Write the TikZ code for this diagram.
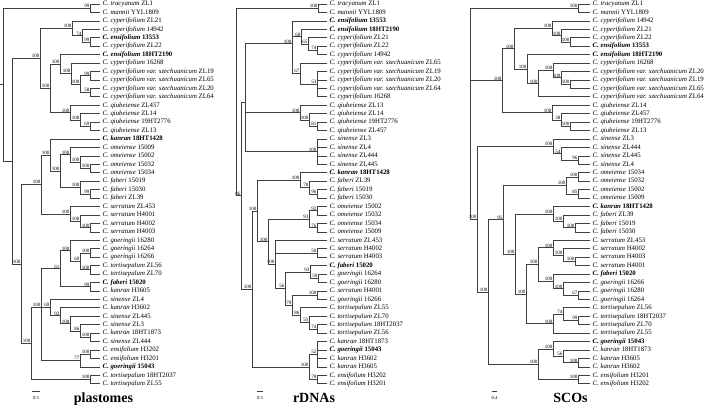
\documentclass[tikz,border=0pt]{standalone}
\usepackage{fontspec}
\setmainfont{Liberation Serif}

\tikzset{
  br/.style={draw=black!75, line width=0.75pt},
  leaf/.style={anchor=west, inner xsep=2.6pt, inner ysep=0pt, outer sep=0pt,
    font=\fontsize{6.8}{8}\selectfont, text height=5pt, text depth=1.5pt},
  bleaf/.style={leaf, font=\fontsize{6.8}{8}\selectfont\bfseries},
  bs/.style={anchor=south east, inner sep=0.4pt, font=\fontsize{5}{5}\selectfont},
  ttl/.style={anchor=base, font=\fontsize{14}{16}\selectfont\bfseries},
  sc/.style={inner sep=0pt, font=\fontsize{4.6}{5}\selectfont}
}

\begin{document}
\begin{tikzpicture}[x=1pt, y=-8.44pt]
\useasboundingbox (0pt,0pt) rectangle (709pt,-407pt);
\begin{scope}[yshift=4.44pt]
  % plastomes: taxa
  \foreach \i/\spc/\tg in {1/tracyanum/ZL1, 2/mannii/YYL1809, 3/cyperifolium/ZL21, 4/cyperifolium/14942,
      6/cyperifolium/ZL22, 8/cyperifolium/16268, 9/cyperifolium var. szechuanicum/ZL19,
      10/cyperifolium var. szechuanicum/ZL65, 11/cyperifolium var. szechuanicum/ZL20,
      12/cyperifolium var. szechuanicum/ZL64, 13/qiubeiense/ZL457, 14/qiubeiense/ZL14,
      15/qiubeiense/19HT2776, 16/qiubeiense/ZL13, 18/omeiense/15009, 19/omeiense/15002,
      20/omeiense/15032, 21/omeiense/15034, 22/faberi/15019, 23/faberi/15030, 24/faberi/ZL39,
      25/serratum/ZL453, 26/serratum/H4001, 27/serratum/H4002, 28/serratum/H4003,
      29/goeringii/16280, 30/goeringii/16264, 31/goeringii/16266, 32/tortisepalum/ZL56,
      33/tortisepalum/ZL70, 35/kanran/H3605, 36/sinense/ZL4, 37/kanran/H3602, 38/sinense/ZL445,
      39/sinense/ZL3, 40/kanran/18HT1873, 41/sinense/ZL444, 42/ensifolium/H3202,
      43/ensifolium/H3201, 45/tortisepalum/18HT2037, 46/tortisepalum/ZL55}
    \node[leaf] (p\i) at (100,\i) {\textit{C. \spc} \tg};
  \foreach \i/\spc/\tg in {5/ensifolium/13553, 7/ensifolium/18HT2190, 17/kanran/18HT1428,
      34/faberi/15020, 44/goeringii/15043}
    \node[bleaf] (p\i) at (100,\i) {\textit{C. \spc} \tg};
  % plastomes: clades
  \foreach \n/\xx/\yy/\lb in {pA1/90/1.5/99, pB1/90/5.5/99, pB2/82/4.75/74, pB3/72/3.875/100,
      pC1/90/9.5/99, pC2/90/11.5/58, pC3/80/10.5/100, pC4/71/9.25/100, pC5/60/8.125/100,
      pD1/90/15.5/69, pD2/80/14.75/100, pD3/70/13.875/100, pE/50/11/100, pF/40/7.44/100,
      pG1/90/20.5/100, pG2/80/19.75/100, pG3/70/18.875/100, pH1/90/23.5/99, pH2/80/22.75/100,
      pJ/60/20.81/100, pK/50/18.91/100, pL1/90/27.5/100, pL2/80/26.75/100, pL3/70/25.875/100,
      pM/41/22.39/100, pN1/90/30.5/100, pN2/90/32.5/100, pN3/80/31.5/60, pN4/70/30.25/100,
      pN5/90/34.5/99, pN6/60/32.375/61, pQ1/90/40.5/100, pQ2/80/39.75/86, pQ3/70/38.875/100,
      pQ4/60/37.94/92, pQ5/50/36.97/69, pS1/90/42.5/100, pS2/80/43.25/77, pT/41/36.97/100,
      pU/90/45.5/100, pV/31/41.24/100, pW/21/31.81/100}
  {
    \coordinate (\n) at (\xx,\yy);
    \node[bs] (l\n) at (\n) {\lb};
  }
  \coordinate (pX) at (12,19.62);
  \coordinate (pR) at (3,10.56);
  \coordinate (p0) at (0,10.56);
  \foreach \pa/\cc in {pA1/p1, pA1/p2, pB1/p5, pB1/p6, pB2/p4, pB2/pB1, pB3/p3, pB3/pB2,
      pC1/p9, pC1/p10, pC2/p11, pC2/p12, pC3/pC1, pC3/pC2, pC4/p8, pC4/pC3, pC5/p7, pC5/pC4,
      pD1/p15, pD1/p16, pD2/p14, pD2/pD1, pD3/p13, pD3/pD2, pE/pC5, pE/pD3, pF/pB3, pF/pE,
      pG1/p20, pG1/p21, pG2/p19, pG2/pG1, pG3/p18, pG3/pG2, pH1/p23, pH1/p24, pH2/p22, pH2/pH1,
      pJ/pG3, pJ/pH2, pK/p17, pK/pJ, pL1/p27, pL1/p28, pL2/p26, pL2/pL1, pL3/p25, pL3/pL2,
      pM/pK, pM/pL3, pN1/p30, pN1/p31, pN2/p32, pN2/p33, pN3/pN1, pN3/pN2, pN4/p29, pN4/pN3,
      pN5/p34, pN5/p35, pN6/pN4, pN6/pN5, pQ1/p40, pQ1/p41, pQ2/p39, pQ2/pQ1, pQ3/p38, pQ3/pQ2,
      pQ4/p37, pQ4/pQ3, pQ5/p36, pQ5/pQ4, pS1/p42, pS1/p43, pS2/pS1, pS2/p44, pT/pN6, pT/pQ5,
      pT/pS2, pU/p45, pU/p46, pV/pT, pV/pU, pW/pM, pW/pV, pX/pF, pX/pW, pR/pA1, pR/pX}
    \draw[br] (\pa) |- (\cc);
  \draw[br] (p0) -- (pR);

  % rDNAs: taxa
  \foreach \i/\spc/\tg in {1/tracyanum/ZL1, 2/mannii/YYL1809, 5/cyperifolium/ZL21, 6/cyperifolium/ZL22,
      7/cyperifolium/14942, 8/cyperifolium var. szechuanicum/ZL65, 9/cyperifolium var. szechuanicum/ZL19,
      10/cyperifolium var. szechuanicum/ZL20, 11/cyperifolium var. szechuanicum/ZL64,
      12/cyperifolium/16268, 13/qiubeiense/ZL13, 14/qiubeiense/ZL14, 15/qiubeiense/19HT2776,
      16/qiubeiense/ZL457, 17/sinense/ZL3, 18/sinense/ZL4, 19/sinense/ZL444, 20/sinense/ZL445,
      22/faberi/ZL39, 23/faberi/15019, 24/faberi/15030, 25/omeiense/15002, 26/omeiense/15032,
      27/omeiense/15034, 28/omeiense/15009, 29/serratum/ZL453, 30/serratum/H4002,
      31/serratum/H4003, 33/goeringii/16264, 34/goeringii/16280, 35/serratum/H4001,
      36/goeringii/16266, 37/tortisepalum/ZL55, 38/tortisepalum/ZL70, 39/tortisepalum/18HT2037,
      40/tortisepalum/ZL56, 41/kanran/18HT1873, 43/kanran/H3602, 44/kanran/H3605,
      45/ensifolium/H3202, 46/ensifolium/H3201}
    \node[leaf] (r\i) at (327,\i) {\textit{C. \spc} \tg};
  \foreach \i/\spc/\tg in {3/ensifolium/13553, 4/ensifolium/18HT2190, 21/kanran/18HT1428,
      32/faberi/15020, 42/goeringii/15043}
    \node[bleaf] (r\i) at (327,\i) {\textit{C. \spc} \tg};
  % rDNAs: clades
  \foreach \n/\xx/\yy/\lb in {rA/318/1.5/100, rB1/317/6.5/74, rB2/308/5.75/65, rB3/301/4.875/68,
      rC1/317/10.5/53, rC2/300/9.25/67, rC/292/5.71/100, rD1/317/15.5/81, rD2/309/14.75/100,
      rD3/300/13.875/100, rE/317/18.5/100, rF1/317/23.5/96, rF2/309/22.75/78, rF3/300/21.875/100,
      rG1/317/25.5/92, rG2/317/27.5/76, rG3/309/26.5/93, rH1/317/30.5/50, rH2/318/33.5/50,
      rH3/310/32.75/93, rH4/317/35.5/100, rH5/317/39.5/74, rH6/309/38.75/55, rH7/300/37.875/86,
      rH8/292/36.69/79, rH9/285/34.72/56, rK1/317/42.5/52, rK2/317/45.5/78, rK3/309/44/100,
      rM1/275/31.86/100, rM2/268/29.18/100, rM3/257/25.53/100, rL2/252/34.76/100,
      rJ/241/23.73/86}
  {
    \coordinate (\n) at (\xx,\yy);
    \node[bs] (l\n) at (\n) {\lb};
  }
  \coordinate (rT) at (245,12.7);
  \coordinate (rR) at (236,12.6);
  \foreach \pa/\cc in {rA/r1, rA/r2, rB1/r6, rB1/r7, rB2/r5, rB2/rB1, rB3/r4, rB3/rB2,
      rC1/r9, rC1/r10, rC1/r11, rC1/r12, rC2/r8, rC2/rC1, rC/r3, rC/rB3, rC/rC2,
      rD1/r15, rD1/r16, rD2/r14, rD2/rD1, rD3/r13, rD3/rD2, rE/r17, rE/r18, rE/r19, rE/r20,
      rF1/r23, rF1/r24, rF2/r22, rF2/rF1, rF3/r21, rF3/rF2, rG1/r25, rG1/r26, rG2/r27, rG2/r28,
      rG3/rG1, rG3/rG2, rH1/r30, rH1/r31, rH2/r33, rH2/r34, rH3/r32, rH3/rH2, rH4/r35, rH4/r36,
      rH5/r39, rH5/r40, rH6/r38, rH6/rH5, rH7/r37, rH7/rH6, rH8/rH4, rH8/rH7, rH9/rH3, rH9/rH8,
      rK1/r41, rK1/r42, rK1/r43, rK1/r44, rK2/r45, rK2/r46, rK3/rK1, rK3/rK2,
      rM1/r29, rM1/rH1, rM1/rH9, rM2/rG3, rM2/rM1, rM3/rF3, rM3/rM2, rL2/rM3, rL2/rK3,
      rT/rC, rT/rD3, rT/rE, rJ/rT, rJ/rL2, rR/rA, rR/rJ}
    \draw[br] (\pa) |- (\cc);

  % SCOs: taxa
  \foreach \i/\spc/\tg in {1/tracyanum/ZL1, 2/mannii/YYL1809, 3/cyperifolium/14942, 4/cyperifolium/ZL21,
      5/cyperifolium/ZL22, 8/cyperifolium/16268, 9/cyperifolium var. szechuanicum/ZL20,
      10/cyperifolium var. szechuanicum/ZL19, 11/cyperifolium var. szechuanicum/ZL65,
      12/cyperifolium var. szechuanicum/ZL64, 13/qiubeiense/ZL14, 14/qiubeiense/ZL457,
      15/qiubeiense/19HT2776, 16/qiubeiense/ZL13, 17/sinense/ZL3, 18/sinense/ZL444,
      19/sinense/ZL445, 20/sinense/ZL4, 21/omeiense/15034, 22/omeiense/15032, 23/omeiense/15002,
      24/omeiense/15009, 26/faberi/ZL39, 27/faberi/15019, 28/faberi/15030, 29/serratum/ZL453,
      30/serratum/H4002, 31/serratum/H4003, 32/serratum/H4001, 34/goeringii/16266,
      35/goeringii/16280, 36/goeringii/16264, 37/tortisepalum/ZL56, 38/tortisepalum/18HT2037,
      39/tortisepalum/ZL70, 40/tortisepalum/ZL55, 42/kanran/18HT1873, 43/kanran/H3605,
      44/kanran/H3602, 45/ensifolium/H3201, 46/ensifolium/H3202}
    \node[leaf] (s\i) at (590,\i) {\textit{C. \spc} \tg};
  \foreach \i/\spc/\tg in {6/ensifolium/13553, 7/ensifolium/18HT2190, 25/kanran/18HT1428,
      33/faberi/15020, 41/goeringii/15043}
    \node[bleaf] (s\i) at (590,\i) {\textit{C. \spc} \tg};
  % SCOs: clades
  \foreach \n/\xx/\yy/\lb in {sA/578/1.5/100, sB1/570/5.5/100, sB2/561/4.75/100, sB3/552/3.875/100,
      sC1/570/10.5/100, sC2/561/9.75/100, sC3/553/8.875/100, sC4/538/10.44/100, sC5/527/8.72/100,
      sC6/514/6.3/100, sD1/570/15.5/100, sD2/561/14.75/38, sD3/552/13.875/100, sE/502/10.09/100,
      sF1/578/19.5/96, sF2/561/18.75/54, sF3/553/17.875/100, sG1/578/21.5/100, sG2/578/23.5/85,
      sG3/566/22.5/100, sH1/575/27.5/100, sH2/563/26.75/100, sH3/553/25.875/100,
      sJ1/575/31.5/100, sJ2/563/30.75/100, sJ3/553/29.875/100, sK1/578/35.5/67,
      sK2/563/34.75/100, sK3/553/33.875/100, sL/538/31.875/100, sM1/578/38.5/99,
      sM2/563/37.75/74, sM3/553/38.875/100, sN/526/35.37/100, sP/515/30.62/100, sQ/503/26.56/95,
      sS1/578/43.5/100, sS2/563/42.75/56, sS3/553/41.875/100, sS4/578/45.5/100,
      sS5/538/43.69/100, sT/488/35.12/100, sU/477/26.5/100}
  {
    \coordinate (\n) at (\xx,\yy);
    \node[bs] (l\n) at (\n) {\lb};
  }
  \coordinate (sR) at (470,12.7);
  \foreach \pa/\cc in {sA/s1, sA/s2, sB1/s5, sB1/s6, sB2/s4, sB2/sB1, sB3/s3, sB3/sB2,
      sC1/s10, sC1/s11, sC2/s9, sC2/sC1, sC3/s8, sC3/sC2, sC4/sC3, sC4/s12, sC5/s7, sC5/sC4,
      sC6/sB3, sC6/sC5, sD1/s15, sD1/s16, sD2/s14, sD2/sD1, sD3/s13, sD3/sD2, sE/sC6, sE/sD3,
      sF1/s19, sF1/s20, sF2/s18, sF2/sF1, sF3/s17, sF3/sF2, sG1/s21, sG1/s22, sG2/s23, sG2/s24,
      sG3/sG1, sG3/sG2, sH1/s27, sH1/s28, sH2/s26, sH2/sH1, sH3/s25, sH3/sH2, sJ1/s31, sJ1/s32,
      sJ2/s30, sJ2/sJ1, sJ3/s29, sJ3/sJ2, sK1/s35, sK1/s36, sK2/s34, sK2/sK1, sK3/s33, sK3/sK2,
      sL/sJ3, sL/sK3, sM1/s38, sM1/s39, sM2/s37, sM2/sM1, sM3/sM2, sM3/s40, sN/sL, sN/sM3,
      sP/sH3, sP/sN, sQ/sG3, sQ/sP, sS1/s43, sS1/s44, sS2/s42, sS2/sS1, sS3/s41, sS3/sS2,
      sS4/s45, sS4/s46, sS5/sS3, sS5/sS4, sT/sQ, sT/sS5, sU/sF3, sU/sT, sR/sA, sR/sE, sR/sU}
    \draw[br] (\pa) |- (\cc);
\end{scope}

% scale bars and titles
\coordinate (bp1) at (32pt,-391pt);  \coordinate (bp2) at (40pt,-391pt);
\coordinate (br1) at (257pt,-391pt); \coordinate (br2) at (263pt,-391pt);
\coordinate (bs1) at (492pt,-391pt); \coordinate (bs2) at (497pt,-391pt);
\draw[br] (bp1) -- (bp2);
\draw[br] (br1) -- (br2);
\draw[br] (bs1) -- (bs2);
\node[sc] (bpl) at (36pt,-397.5pt) {0.5};
\node[sc] (brl) at (260pt,-397.5pt) {0.5};
\node[sc] (bsl) at (494.5pt,-397.5pt) {0.4};
\node[ttl] (tp) at (103.5pt,-402pt) {plastomes};
\node[ttl] (tr) at (314pt,-402pt) {rDNAs};
\node[ttl] (ts) at (570.5pt,-402pt) {SCOs};
\end{tikzpicture}
\end{document}
